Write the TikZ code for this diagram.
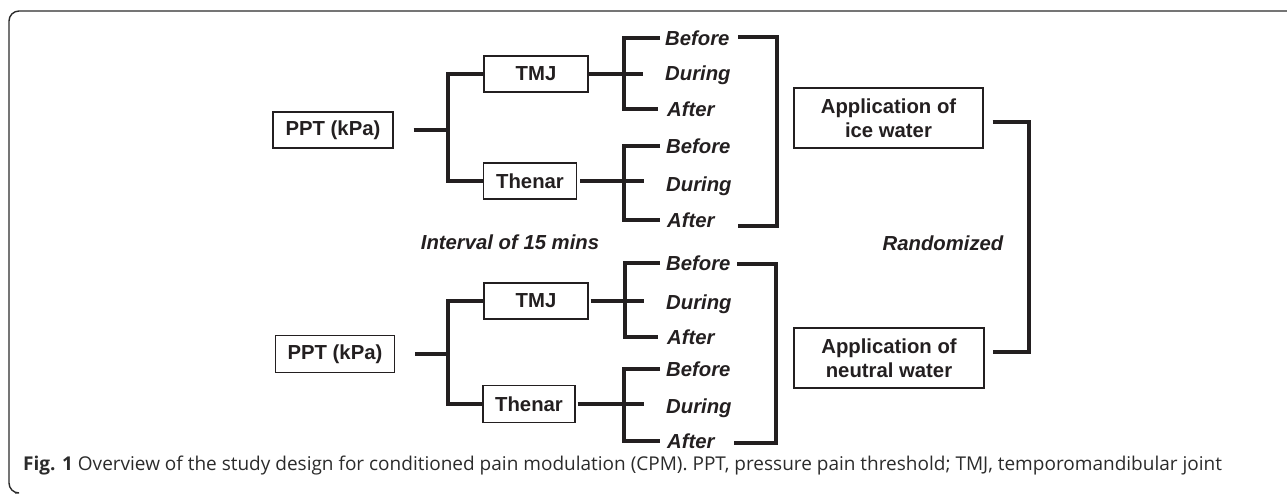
\documentclass[tikz,border=0pt]{standalone}
\usepackage{fontspec}
\setmainfont{Liberation Sans}
\newfontfamily\capfont{Open Sans}
\definecolor{ink}{HTML}{231F20}
\definecolor{capink}{HTML}{2B2B2B}
\begin{document}
\begin{tikzpicture}[x=1pt,y=-1pt,
  every node/.style={text=ink,font=\fontsize{20.3}{24}\selectfont\bfseries},
  box/.style={draw=ink,line width=1.2pt,inner sep=0pt,align=center},
  lbl/.style={anchor=west,inner sep=0pt,text height=14.5pt,text depth=0pt,font=\fontsize{20.3}{24}\selectfont\bfseries\itshape},
  conn/.style={draw=ink,line width=4pt,line cap=butt,line join=miter},
  frame/.style={draw=capink,line width=1.4pt}]
\useasboundingbox (0,0) rectangle (1287,495);
% frame
\draw[frame,rounded corners=10pt] (1290,11) -| (9,493) -- (15,493);

% ===== upper block =====
\node[box,minimum width=120pt,minimum height=36pt] (ppt1) at (333,130) {PPT (kPa)};
\node[box,minimum width=104pt,minimum height=36pt] (tmj1) at (536,74) {TMJ};
\node[box,minimum width=93pt,minimum height=36pt] (then1) at (530,181) {Thenar};
\coordinate (j1) at (448,130);
\draw[conn] ([xshift=20pt]ppt1.east) -- (j1);
\draw[conn] (tmj1.west) -| (j1) |- (then1.west);

\node[lbl] (bef1) at (665,38) {Before};
\node[lbl] (dur1) at (665,73) {During};
\node[lbl] (aft1) at (667,109) {After};
\coordinate (b1) at (624,74);
\draw[conn] (tmj1.east) -- (b1);
\draw[conn] ([xshift=-5pt]bef1.west) -| (b1) |- ([xshift=-9pt]aft1.west);
\draw[conn] (b1) -- ([xshift=-22pt]b1 -| dur1.west);

\node[lbl] (bef2) at (666,146) {Before};
\node[lbl] (dur2) at (666,184) {During};
\node[lbl] (aft2) at (667,220) {After};
\coordinate (b2) at (624,181);
\draw[conn] ([xshift=3pt]then1.east) -- (b2);
\draw[conn] ([xshift=-6pt]bef2.west) -| (b2) |- ([xshift=-7pt]aft2.west);
\draw[conn] (b2) -- ([xshift=-22pt]b2 -| dur2.west);

\coordinate (B1t) at (738,37);
\coordinate (B1b) at (738,226);
\coordinate (B1m) at (777,130);
\draw[conn] (B1t) -| (B1m) |- (B1b);

\node[lbl,anchor=center] (interval) at (510,242) {Interval of 15 mins};

% ===== lower block =====
\node[box,minimum width=119pt,minimum height=37pt] (ppt2) at (335,354) {PPT (kPa)};
\node[box,minimum width=104pt,minimum height=36pt] (tmj2) at (536,301) {TMJ};
\node[box,minimum width=92pt,minimum height=37pt] (then2) at (529,404) {Thenar};
\coordinate (j2) at (448,354);
\draw[conn] ([xshift=20pt]ppt2.east) -- (j2);
\draw[conn] (tmj2.west) -| (j2) |- (then2.west);

\node[lbl] (bef3) at (666,263) {Before};
\node[lbl] (dur3) at (666,302) {During};
\node[lbl] (aft3) at (667,337) {After};
\coordinate (b3) at (625,301);
\draw[conn] ([xshift=2pt]tmj2.east) -- (b3);
\draw[conn] ([xshift=-6pt]bef3.west) -| (b3) |- ([xshift=-9pt]aft3.west);
\draw[conn] (b3) -- ([xshift=-22pt]b3 -| dur3.west);

\node[lbl] (bef4) at (666,369) {Before};
\node[lbl] (dur4) at (666,406) {During};
\node[lbl] (aft4) at (667,441) {After};
\coordinate (b4) at (624,404);
\draw[conn] ([xshift=2pt]then2.east) -- (b4);
\draw[conn] ([xshift=-6pt]bef4.west) -| (b4) |- ([xshift=-7pt]aft4.west);
\draw[conn] (b4) -- ([xshift=-22pt]b4 -| dur4.west);

\coordinate (B2t) at (737,264);
\coordinate (B2b) at (734,443);
\coordinate (B2m) at (776,350);
\draw[conn] (B2t) -| (B2m) |- (B2b);

% ===== right side =====
\node[box,minimum width=189pt,minimum height=60pt] (ice) at (888.5,118) {Application of\\ice water};
\node[box,minimum width=190pt,minimum height=60pt] (neu) at (889,358) {Application of\\neutral water};
\coordinate (R) at (1029,236);
\draw[conn] ([shift={(9pt,-4pt)}]ice.east) -| (R) |- ([shift={(8pt,6pt)}]neu.east);
\node[lbl,anchor=center] (rand) at (943,243) {Randomized};

% caption
\node[anchor=west,inner sep=0pt,text=capink,font=\capfont\fontsize{19}{22}\selectfont] (cap) at (23,466)
  {{\bfseries Fig. 1} Overview of the study design for conditioned pain modulation (CPM). PPT, pressure pain threshold; TMJ, temporomandibular joint};
\end{tikzpicture}
\end{document}
